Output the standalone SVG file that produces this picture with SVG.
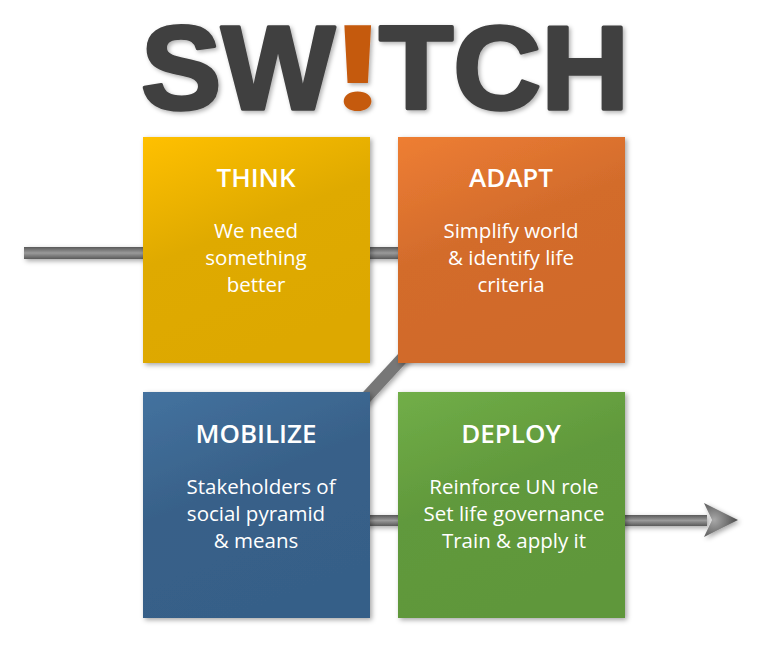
<svg xmlns="http://www.w3.org/2000/svg" width="768" height="645" viewBox="0 0 768 645">
<defs>
<style>
.logo{font-family:"Liberation Sans",Arial,sans-serif;font-weight:700;font-size:118px;fill:#404040;stroke:#404040;stroke-width:3.5;stroke-linejoin:round}
.bang{font-family:Roboto,"Liberation Sans",sans-serif;font-weight:900;font-size:118px;fill:#C55A11;text-anchor:middle}
.ttl{font-family:"Open Sans","Noto Sans","Liberation Sans",sans-serif;font-weight:600;font-size:26px;fill:#fff;text-anchor:middle}
.body{font-family:"Open Sans","Noto Sans","Liberation Sans",sans-serif;font-weight:400;font-size:20.5px;fill:#fff;text-anchor:middle}
</style>
<filter id="sh" x="-10%" y="-10%" width="125%" height="125%">
<feDropShadow dx="2" dy="2" stdDeviation="2.5" flood-color="#000" flood-opacity="0.35"/>
</filter>
<filter id="tsh" filterUnits="userSpaceOnUse" x="0" y="0" width="768" height="135">
<feDropShadow dx="2" dy="2" stdDeviation="2" flood-color="#000" flood-opacity="0.3"/>
</filter>
<linearGradient id="gY" x1="0" y1="0" x2="0.4" y2="1">
<stop offset="0" stop-color="#FFC000"/><stop offset="0.5" stop-color="#DFAA00"/><stop offset="1" stop-color="#DDA800"/>
</linearGradient>
<linearGradient id="gO" x1="0" y1="0" x2="0.4" y2="1">
<stop offset="0" stop-color="#EE7E33"/><stop offset="0.5" stop-color="#D36C2C"/><stop offset="1" stop-color="#D06A2A"/>
</linearGradient>
<linearGradient id="gB" x1="0" y1="0" x2="0.4" y2="1">
<stop offset="0" stop-color="#44729F"/><stop offset="0.5" stop-color="#386189"/><stop offset="1" stop-color="#365F88"/>
</linearGradient>
<linearGradient id="gG" x1="0" y1="0" x2="0.4" y2="1">
<stop offset="0" stop-color="#71AE48"/><stop offset="0.5" stop-color="#61993C"/><stop offset="1" stop-color="#5F973A"/>
</linearGradient>
<linearGradient id="gH" x1="0" y1="0" x2="0" y2="1">
<stop offset="0" stop-color="#5A5A5A"/><stop offset="0.5" stop-color="#9A9A9A"/><stop offset="1" stop-color="#5A5A5A"/>
</linearGradient>
<radialGradient id="gA" cx="0.3" cy="0.5" r="0.7">
<stop offset="0" stop-color="#A8A8A8"/><stop offset="1" stop-color="#4A4A4A"/>
</radialGradient>
</defs>
<rect width="768" height="645" fill="#fff"/>

<g id="title" filter="url(#tsh)">
<text class="logo" x="141" y="109" textLength="194" lengthAdjust="spacingAndGlyphs">SW</text>
<text class="bang" x="357" y="110" textLength="42" lengthAdjust="spacingAndGlyphs">!</text>
<text class="logo" x="379" y="109" textLength="250" lengthAdjust="spacingAndGlyphs">TCH</text>
</g>

<g id="connectors" filter="url(#sh)">
<rect x="24" y="247" width="380" height="12" fill="url(#gH)"/>
<line x1="408" y1="352" x2="362" y2="402" stroke="#777" stroke-width="12"/>
<rect x="365" y="515" width="342" height="11" fill="url(#gH)"/>
<path d="M704,503 L738,520 L704,537 L712,520 Z" fill="url(#gA)"/>
</g>

<g id="think">
<rect x="143" y="137" width="227" height="226" fill="url(#gY)" filter="url(#sh)"/>
<text class="ttl" x="256" y="187">THINK</text>
<text class="body" x="256" y="238">We need</text>
<text class="body" x="256" y="265">something</text>
<text class="body" x="256" y="292">better</text>
</g>

<g id="adapt">
<rect x="398" y="137" width="227" height="226" fill="url(#gO)" filter="url(#sh)"/>
<text class="ttl" x="511" y="187">ADAPT</text>
<text class="body" x="511" y="238">Simplify world</text>
<text class="body" x="511" y="265">&amp; identify life</text>
<text class="body" x="511" y="292">criteria</text>
</g>

<g id="mobilize">
<rect x="143" y="392" width="227" height="226" fill="url(#gB)" filter="url(#sh)"/>
<text class="ttl" x="256" y="443">MOBILIZE</text>
<text class="body" x="261" y="494">Stakeholders of</text>
<text class="body" x="256" y="521">social pyramid</text>
<text class="body" x="256" y="548">&amp; means</text>
</g>

<g id="deploy">
<rect x="398" y="392" width="227" height="226" fill="url(#gG)" filter="url(#sh)"/>
<text class="ttl" x="511" y="443">DEPLOY</text>
<text class="body" x="514" y="494">Reinforce UN role</text>
<text class="body" x="514" y="521">Set life governance</text>
<text class="body" x="514" y="548">Train &amp; apply it</text>
</g>
</svg>
